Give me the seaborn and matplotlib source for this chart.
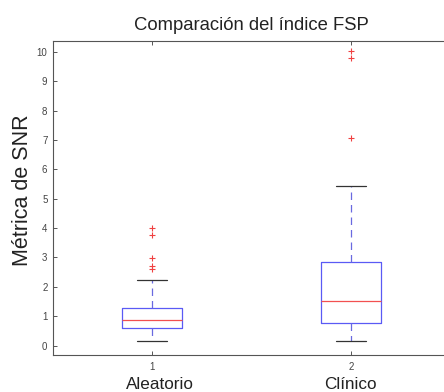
import matplotlib
matplotlib.use("Agg")
import matplotlib.pyplot as plt
import seaborn as sns
import pandas as pd

# SNR metric samples per group (FSP index)
aleatorio = [0.15, 0.28, 0.36, 0.43, 0.49, 0.54, 0.57, 0.60, 0.64, 0.68,
             0.72, 0.77, 0.81, 0.85, 0.885, 0.93, 0.98, 1.03, 1.09, 1.15,
             1.21, 1.27, 1.62, 2.22, 2.62, 2.71, 2.97, 3.76, 4.02]
clinico = [0.15, 0.32, 0.45, 0.58, 0.69, 0.77, 0.92, 1.08, 1.22, 1.38,
           1.53, 1.78, 2.05, 2.34, 2.60, 2.84, 3.60, 5.45, 7.07, 9.78, 10.03]

tick_labels = ["1", "2"]
group_names = ["Aleatorio", "Clínico"]
y_ticks = list(range(0, 11))

df = pd.DataFrame({
    "grupo": [tick_labels[0]] * len(aleatorio) + [tick_labels[1]] * len(clinico),
    "snr": aleatorio + clinico,
})

sns.set_style("white")
plt.rcParams["font.family"] = ["Liberation Sans", "DejaVu Sans"]

fig = plt.figure(figsize=(4.44, 3.92), dpi=100)
ax = fig.add_axes([53 / 444, 37 / 392, 397 / 444, 314.3 / 392])

blue = "#5a5af5"
sns.boxplot(
    data=df, x="grupo", y="snr", order=tick_labels, ax=ax,
    width=0.3, whis=1.5, fill=False, linewidth=0.9,
    boxprops=dict(color=blue, linewidth=0.9),
    medianprops=dict(color="#f25050", linewidth=0.9),
    whiskerprops=dict(color="#6a6ae0", linewidth=0.9, linestyle=(0, (6, 4))),
    capprops=dict(color="#333333", linewidth=0.9),
    flierprops=dict(marker="+", markeredgecolor="#f04040", markersize=5,
                    markeredgewidth=0.8),
)

ax.set_xlim(-0.5, 1.5)
ax.set_ylim(-0.32, 10.38)
ax.set_yticks(y_ticks)
ax.set_yticklabels([str(v) for v in y_ticks])
ax.set_xlabel("")
ax.set_ylabel("Métrica de SNR", fontsize=15.5, color="#222222")
ax.yaxis.set_label_coords(-0.05, 0.525)
ax.set_title("Comparación del índice FSP", fontsize=13.3, color="#222222", pad=7.5)

ax.tick_params(axis="both", direction="in", length=3, width=0.7,
               colors="#555555", labelsize=7, labelcolor="#444444")
ax.tick_params(axis="x", top=True, bottom=True, pad=5)
ax.tick_params(axis="y", left=True, right=True, pad=4)

for side in ["left", "bottom", "top", "right"]:
    ax.spines[side].set_visible(True)
    ax.spines[side].set_color("#555555")
    ax.spines[side].set_linewidth(0.8)

# Group names below the numeric tick labels
offsets = [0.04, 0.0]
for i, name in enumerate(group_names):
    ax.text(i + offsets[i], -0.109, name, transform=ax.get_xaxis_transform(),
            ha="center", va="baseline", fontsize=12.3, color="#222222")

fig.savefig("out.png", dpi=100)
